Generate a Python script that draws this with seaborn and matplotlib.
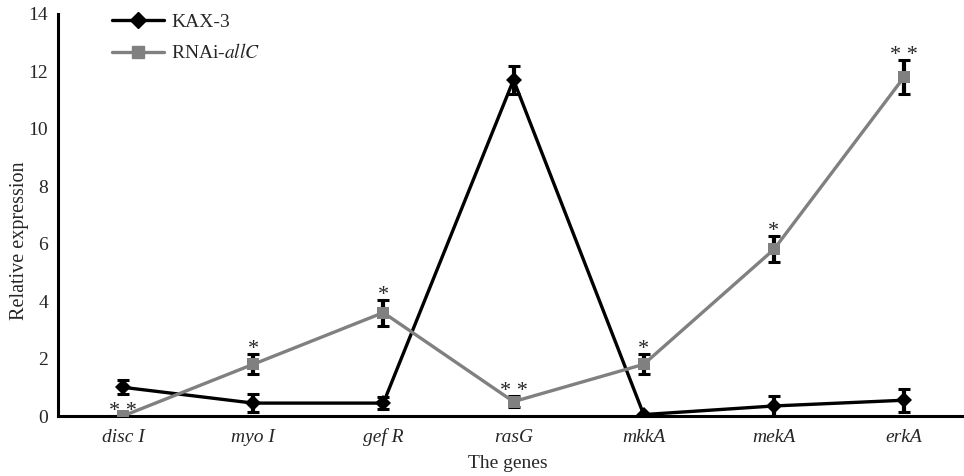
import matplotlib
matplotlib.use("Agg")
import matplotlib.pyplot as plt
import seaborn as sns
import pandas as pd
import numpy as np
from matplotlib.lines import Line2D

genes = ["disc I", "myo I", "gef R", "rasG", "mkkA", "mekA", "erkA"]
kax3 = [1.0, 0.45, 0.45, 11.7, 0.05, 0.35, 0.55]
kax3_err = [0.25, 0.3, 0.2, 0.5, 0.0, 0.35, 0.4]
rnai = [0.0, 1.8, 3.6, 0.5, 1.8, 5.8, 11.8]
rnai_err = [0.0, 0.35, 0.45, 0.2, 0.35, 0.45, 0.6]
stars = ["* *", "*", "*", "* *", "*", "*", "* *"]
yticks = [0, 2, 4, 6, 8, 10, 12, 14]

sns.set_style("white")
plt.rcParams["font.family"] = ["Liberation Serif", "DejaVu Serif"]
plt.rcParams["mathtext.fontset"] = "stix"

fig = plt.figure(figsize=(9.64, 4.76), dpi=100)
ax = fig.add_axes([0.060, 0.126, 0.94, 0.845])

pos = np.arange(len(genes))
df = pd.DataFrame({
    "x": np.concatenate([pos, pos]),
    "y": kax3 + rnai,
    "series": ["KAX-3"] * len(genes) + ["RNAi-allC"] * len(genes),
})
palette = {"KAX-3": "#000000", "RNAi-allC": "#808080"}
markers = {"KAX-3": "D", "RNAi-allC": "s"}
sns.lineplot(data=df, x="x", y="y", hue="series", style="series",
             palette=palette, markers=markers, dashes=False,
             linewidth=2.4, markersize=8.5, markeredgewidth=0, ax=ax, legend=False, zorder=3)

ax.errorbar(pos, kax3, yerr=kax3_err, fmt="none", ecolor="black", elinewidth=3,
            capsize=4.5, capthick=2.2, zorder=2)
ax.errorbar(pos, rnai, yerr=rnai_err, fmt="none", ecolor="black", elinewidth=3,
            capsize=4.5, capthick=2.2, zorder=2)

for i, s in enumerate(stars):
    top = rnai[i] + rnai_err[i]
    ax.text(pos[i], top - 0.17, s, ha="center", va="bottom", fontsize=16)

ax.set_xlim(-0.5, 6.46)
ax.set_ylim(0, 14)
ax.set_yticks(yticks)
ax.set_yticklabels([str(v) for v in yticks], fontsize=14)
ax.set_xticks(pos)
ax.set_xticklabels(genes, fontsize=14, style="italic")
ax.tick_params(axis="x", length=0, pad=9)
ax.set_xticks(np.arange(0.5, 6.0, 1.0), minor=True)
ax.tick_params(axis="x", which="minor", direction="in", length=6, width=2)
ax.tick_params(axis="y", direction="in", length=9, width=2, pad=7)
for sp in ["top", "right"]:
    ax.spines[sp].set_visible(False)
for sp in ["left", "bottom"]:
    ax.spines[sp].set_linewidth(2.2)
    ax.spines[sp].set_color("black")

ax.set_xlabel("The genes", fontsize=14)
ax.set_ylabel("Relative expression", fontsize=14.5)
ax.xaxis.set_label_coords(0.497, -0.097)
ax.yaxis.set_label_coords(-0.032, 0.435)

handles = [Line2D([], [], color="black", marker="D", lw=2.4, markersize=8.5),
           Line2D([], [], color="#808080", marker="s", lw=2.4, markersize=8.5)]
ax.legend(handles, ["KAX-3", r"RNAi-$\mathit{allC}$"], loc="upper left",
          bbox_to_anchor=(0.04, 1.045), frameon=False, fontsize=14,
          handlelength=2.7, handletextpad=0.35, labelspacing=0.65)

fig.savefig("out.png", dpi=100)
